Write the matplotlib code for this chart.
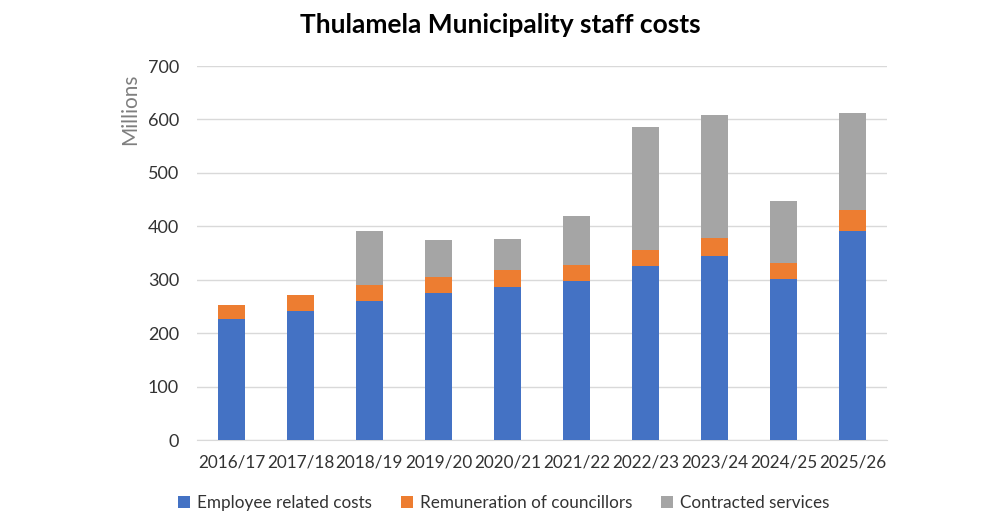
import numpy as np
import matplotlib.pyplot as plt

plt.rcParams['font.family'] = ['Lato', 'DejaVu Sans']

years = ['2016/17', '2017/18', '2018/19', '2019/20', '2020/21',
         '2021/22', '2022/23', '2023/24', '2024/25', '2025/26']
employee = [226, 242.5, 261, 275, 286, 297, 325, 344, 302, 391]
councillors = [26, 30, 30, 31, 31.5, 30.5, 31, 34, 29, 40]
contracted = [0, 0, 100, 69, 58.5, 91.5, 230, 230, 116, 181]

fig = plt.figure(figsize=(10, 5.24), dpi=100)
ax = fig.add_axes([0.197, 0.160, 0.690, 0.714])

x = np.arange(len(years))
emp = np.array(employee)
cou = np.array(councillors)
con = np.array(contracted)
w = 0.4
ax.bar(x, emp, w, color='#4472c4', label='Employee related costs', zorder=3)
ax.bar(x, cou, w, bottom=emp, color='#ed7d31', label='Remuneration of councillors', zorder=3)
ax.bar(x, con, w, bottom=emp + cou, color='#a5a5a5', label='Contracted services', zorder=3)

ax.set_xlim(-0.5, len(years) - 0.5)
ax.set_ylim(0, 700)
ax.set_yticks(range(0, 701, 100))
ax.set_xticks(x)
ax.set_xticklabels(years)
ax.yaxis.grid(True, color='#d9d9d9', linewidth=1, zorder=0)
for s in ['top', 'right', 'left']:
    ax.spines[s].set_visible(False)
ax.spines['bottom'].set_color('#d9d9d9')
ax.tick_params(axis='both', length=0, colors='#333333')
ax.tick_params(axis='y', pad=13, labelsize=13)
ax.tick_params(axis='x', pad=10, labelsize=12.3)
ax.set_ylabel('Millions', fontsize=15, color='#7f7f7f')
ax.yaxis.set_label_coords(-0.082, 0.885)

fig.text(0.5, 0.952, 'Thulamela Municipality staff costs', ha='center', va='center',
         fontsize=19, fontweight='bold', color='black')

fig.legend(loc='center', bbox_to_anchor=(0.504, 0.04), ncol=3, frameon=False,
           fontsize=12.3, handlelength=0.7, handleheight=0.7, columnspacing=1.7,
           handletextpad=0.4, labelcolor='#333333')

fig.savefig('out.png', dpi=100)
